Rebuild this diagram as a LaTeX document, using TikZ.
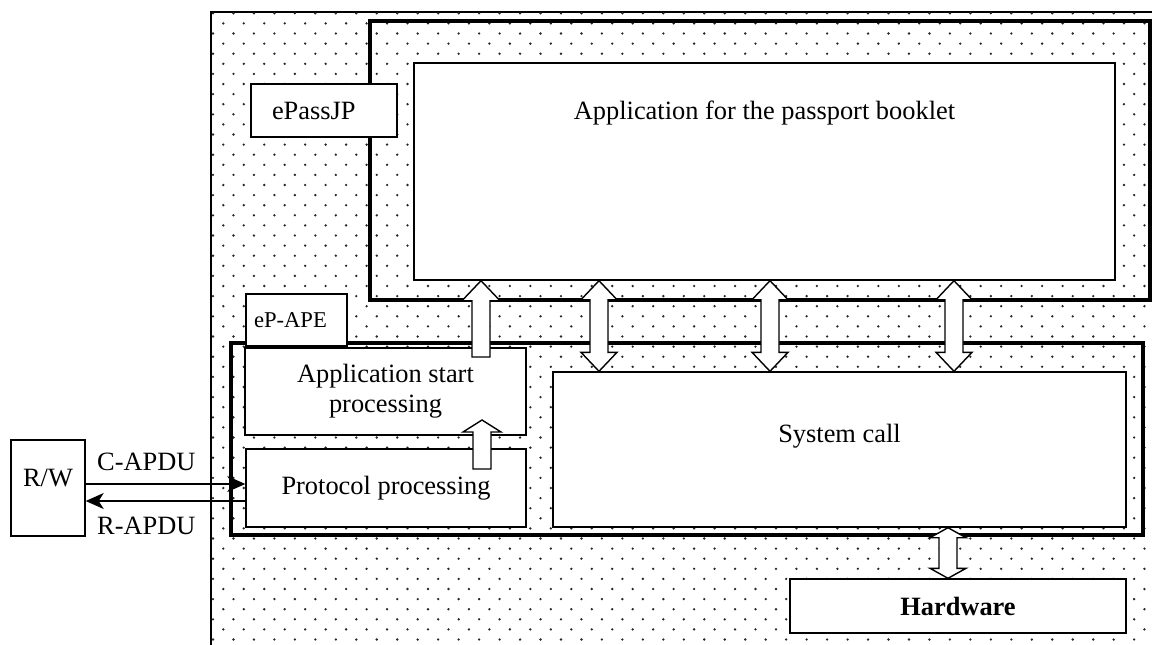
\documentclass[tikz,border=0pt]{standalone}
\usepackage{fontspec}
\setmainfont{Liberation Serif}
\usetikzlibrary{calc,arrows.meta}

% hollow block arrows: #1 start, #2 end, #3 head length
\newcommand{\uparr}[3]{%
  \draw[blk] ($(#1)+(-9,0)$) -- ($(#2)+(-9,#3)$) -- ($(#2)+(-19,#3)$) -- (#2)
    -- ($(#2)+(19,#3)$) -- ($(#2)+(9,#3)$) -- ($(#1)+(9,0)$) -- cycle;}
\newcommand{\dblarr}[3]{%
  \draw[blk] (#1) -- ($(#1)+(18,#3)$) -- ($(#1)+(9,#3)$) -- ($(#2)+(9,-#3)$)
    -- ($(#2)+(18,-#3)$) -- (#2) -- ($(#2)+(-18,-#3)$) -- ($(#2)+(-9,-#3)$)
    -- ($(#1)+(-9,#3)$) -- ($(#1)+(-18,#3)$) -- cycle;}

\begin{document}
\begin{tikzpicture}[x=0.5pt,y=-0.5pt,
    font=\fontsize{13.2}{15}\selectfont,
    box/.style={draw,fill=white,line width=0.7pt,inner sep=0pt,align=center},
    frame/.style={draw,line width=1.6pt,inner sep=0pt},
    blk/.style={draw,fill=white,line width=0.7pt,line join=miter},
    sig/.style={line width=0.6pt,-{Stealth[length=9pt,width=8pt,inset=2.5pt]}},
    dotc/.style={fill=black!85}]
  \useasboundingbox (0,0) rectangle (1152,644);
  \clip (0,0) rectangle (1152,644);

  % chip area with dots
  \node[draw,line width=0.6pt,inner sep=0pt,minimum width=479.5pt,minimum height=329pt] (chip) at (690.5,341) {};
  \begin{scope}
    \clip (chip.north west) rectangle (chip.south east);
    \foreach \j in {0,...,63} {
      \pgfmathsetmacro\yy{13.3+10.1*\j}
      \pgfmathsetmacro\xo{mod(\j,2)==0 ? 213 : 223.3}
      \foreach \i in {0,...,46}
        \fill[dotc] (\xo+20.47*\i,\yy) circle (0.65pt);
    }
  \end{scope}

  \node[frame,minimum width=390pt,minimum height=139.5pt] (passjp) at (760,160.5) {};
  \node[frame,minimum width=456pt,minimum height=96pt] (ape) at (687,439) {};

  \node[box,minimum width=350.5pt,minimum height=108.5pt,
        label={[name=bookletlbl,yshift=29.25pt]center:Application for the passport booklet}] (booklet) at (764.5,171.5) {};
  \node[box,text width=52pt,inner xsep=10.5pt,align=left,minimum height=26.5pt] (passjplbl) at (324,110.5) {ePassJP};
  \node[box,font=\fontsize{11.3}{13}\selectfont,text width=42.5pt,inner xsep=4pt,align=left,minimum height=26pt] (apelbl) at (296.5,320) {eP-APE};
  \node[box,minimum width=140.5pt,minimum height=43.5pt] (start) at (385.5,391.5) {Application start\\processing};
  \node[box,minimum width=140pt,minimum height=39pt] (protocol) at (386,488) {Protocol processing};
  \node[box,minimum width=286.5pt,minimum height=77.5pt,
        label={[name=syslbl,yshift=6.75pt]center:System call}] (syscall) at (839.5,449.5) {};
  \node[box,minimum width=168pt,minimum height=27pt,font=\fontsize{13.2}{15}\selectfont\bfseries] (hw) at (958,606) {Hardware};
  \node[box,minimum width=37pt,minimum height=48pt,
        label={[name=rwlbl,yshift=5pt]center:R/W}] (rw) at (48,488) {};

  % block arrows
  \coordinate (u1) at (481,357);
  \coordinate (u2b) at (482,469);
  \coordinate (u2t) at (482,420);
  \coordinate (d1) at (599,0);
  \coordinate (d2) at (770,0);
  \coordinate (d3) at (954,0);
  \coordinate (d4) at (948,0);
  \uparr{u1}{booklet.south -| u1}{20}
  \uparr{u2b}{u2t}{12}
  \dblarr{booklet.south -| d1}{syscall.north -| d1}{19}
  \dblarr{booklet.south -| d2}{syscall.north -| d2}{19}
  \dblarr{booklet.south -| d3}{syscall.north -| d3}{19}
  \dblarr{syscall.south -| d4}{hw.north -| d4}{10}

  % APDUs
  \draw[sig] ([yshift=2pt]rw.east) -- ([yshift=2pt]protocol.west)
    node[pos=.38,above=3pt] (capdu) {C-APDU};
  \draw[sig] ([yshift=-6.5pt]protocol.west) -- ([yshift=-6.5pt]rw.east)
    node[pos=.62,below=4.3pt] (rapdu) {R-APDU};
\end{tikzpicture}
\end{document}
